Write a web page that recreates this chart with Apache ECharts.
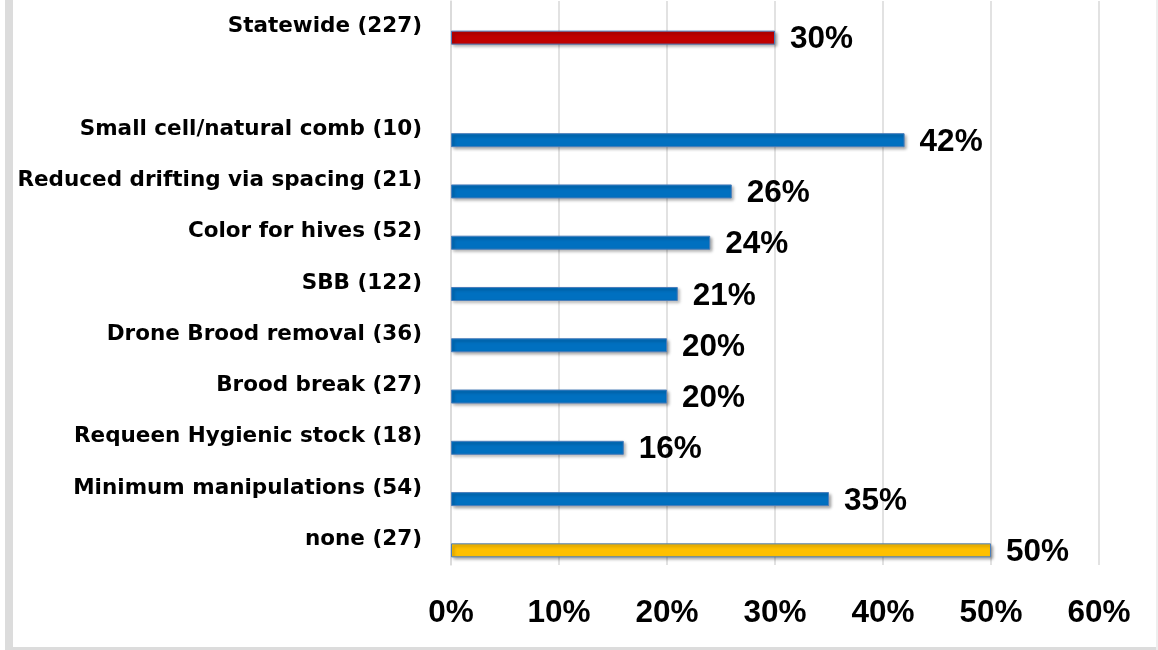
<!DOCTYPE html>
<html>
<head>
<meta charset="utf-8">
<script src="https://cdn.jsdelivr.net/npm/echarts@6/dist/echarts.min.js"></script>
<style>
html,body{margin:0;padding:0;background:#fff;}
#chart{width:1158px;height:650px;}
</style>
</head>
<body>
<div id="chart"></div>
<script>
// Data
var categories = [
  'Statewide (227)',
  '',
  'Small cell/natural comb (10)',
  'Reduced drifting via spacing (21)',
  'Color for hives (52)',
  'SBB (122)',
  'Drone Brood removal (36)',
  'Brood break (27)',
  'Requeen Hygienic stock (18)',
  'Minimum manipulations (54)',
  'none (27)'
];
var values = [30, null, 42, 26, 24, 21, 20, 20, 16, 35, 50];
var xTicks = [0, 10, 20, 30, 40, 50, 60];

// Styles (by category index)
var barColors = ['#C00000', '#0070C0', '#0070C0', '#0070C0', '#0070C0', '#0070C0', '#0070C0', '#0070C0', '#0070C0', '#0070C0', '#FFC000'];

var chart = echarts.init(document.getElementById('chart'), null, {renderer: 'canvas'});

var option = {
  animation: false,
  backgroundColor: '#ffffff',
  grid: {left: 451, right: 59, top: 1, bottom: 85, containLabel: false},
  xAxis: {
    type: 'value',
    min: xTicks[0],
    max: xTicks[xTicks.length - 1],
    interval: 10,
    axisLine: {show: false},
    axisTick: {show: false},
    splitLine: {show: true, lineStyle: {color: '#D9D9D9', width: 1.5}},
    axisLabel: {
      formatter: function (v) { return v + '%'; },
      fontFamily: 'Liberation Sans',
      fontWeight: 'bold',
      fontSize: 31.5,
      color: '#000',
      margin: 32
    }
  },
  yAxis: {
    type: 'category',
    data: categories,
    inverse: true,
    axisLine: {show: true, lineStyle: {color: '#D9D9D9', width: 1.5}},
    axisTick: {show: false},
    axisLabel: {
      fontFamily: 'DejaVu Sans',
      fontWeight: 'bold',
      fontSize: 21.5,
      color: '#000',
      margin: 29
    }
  },
  series: [
    {
      type: 'bar',
      data: [],
      barWidth: 14,
      silent: true
    },
    {
      type: 'bar',
      data: values,
      barWidth: 14,
      barGap: '57%',
      itemStyle: {
        color: function (p) { return barColors[p.dataIndex]; },
        borderColor: '#4A7EBB',
        borderWidth: 1,
        shadowColor: 'rgba(0,0,0,0.35)',
        shadowBlur: 3,
        shadowOffsetX: 2,
        shadowOffsetY: 2
      },
      label: {
        show: true,
        position: 'right',
        distance: 15,
        offset: [0, 2],
        formatter: function (p) { return p.value + '%'; },
        fontFamily: 'Liberation Sans',
        fontWeight: 'bold',
        fontSize: 31.5,
        color: '#000'
      }
    }
  ],
  graphic: [
    {type: 'rect', shape: {x: 5, y: 0, width: 8, height: 650}, style: {fill: '#DCDCDC'}, silent: true},
    {type: 'rect', shape: {x: 5, y: 647, width: 1153, height: 3}, style: {fill: '#DCDCDC'}, silent: true},
    {type: 'rect', shape: {x: 1156, y: 0, width: 2, height: 650}, style: {fill: '#EEEEEE'}, silent: true}
  ]
};
chart.setOption(option);
</script>
</body>
</html>
